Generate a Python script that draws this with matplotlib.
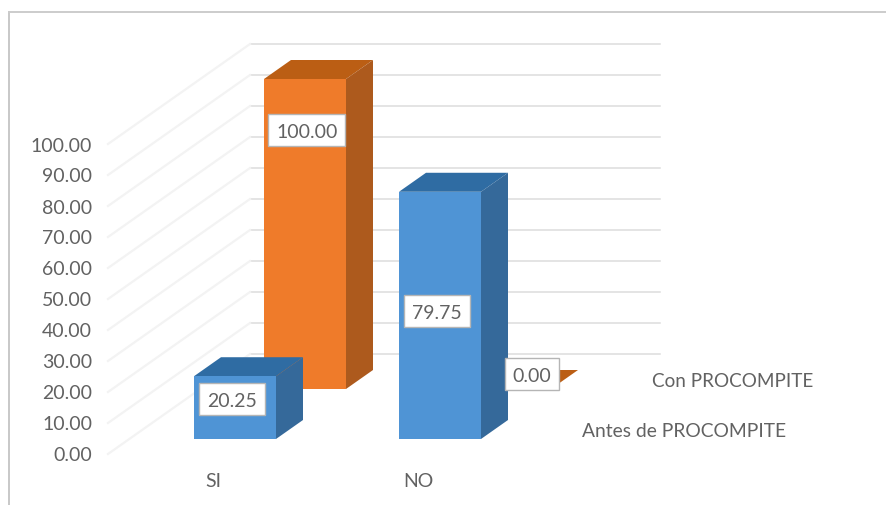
import matplotlib
matplotlib.use('Agg')
import matplotlib.pyplot as plt
from matplotlib.patches import Polygon, Rectangle

categorias = ['SI', 'NO']
antes = [20.25, 79.75]
con = [100.00, 0.00]
ticks = [0, 10, 20, 30, 40, 50, 60, 70, 80, 90, 100]
nombre_antes = 'Antes de PROCOMPITE'
nombre_con = 'Con PROCOMPITE'

plt.rcParams['font.family'] = ['Lato', 'DejaVu Sans']

W = 887
H = 506
PX = 3.1        # pixels per unit of value
Y0 = 440        # pixel row of value 0 in the front series


def v(p):
    # pixel rows to value units
    return p / PX


fig = plt.figure(figsize=(W / 100, H / 100), dpi=100)
ax = fig.add_axes([0, 0, 1, 1])
ax.set_xlim(0, W)
ax.set_ylim(v(Y0 - H), v(Y0))
ax.axis('off')

TXT = '#626262'

# chart frame
ax.plot([9, 9], [v(Y0 - H), v(Y0 - 13)], color='#c8c8c8', lw=1.4)
ax.plot([9, W], [v(Y0 - 13), v(Y0 - 13)], color='#cccccc', lw=1.4)

# walls: value 0 on the back wall sits 85 px above the front base
back = v(85)
for t in ticks:
    ax.plot([250, 660], [t + back, t + back], color='#dcdcdc', lw=1.1, zorder=1)
    ax.plot([108, 250], [t + back - v(100), t + back], color='#f3f3f3', lw=1.6, zorder=1)
    ax.text(92, t + back - v(100) - v(1), f'{t:.2f}', ha='right', va='center',
            fontsize=14, color=TXT, zorder=6)


def barra(x, base, valor, ancho, frente, lado, arriba, z):
    dx = 27
    dy = v(19)
    top = base + valor
    ax.add_patch(Polygon([(x, top), (x + ancho, top), (x + ancho + dx, top + dy), (x + dx, top + dy)],
                         closed=True, fc=arriba, ec='none', zorder=z))
    ax.add_patch(Polygon([(x + ancho, base), (x + ancho + dx, base + dy), (x + ancho + dx, top + dy), (x + ancho, top)],
                         closed=True, fc=lado, ec='none', zorder=z))
    ax.add_patch(Rectangle((x, base), ancho, valor, fc=frente, ec='none', zorder=z))


x_antes = [194, 399]
x_con = [264, 469]
base_con = v(50)
for i in range(len(categorias)):
    barra(x_con[i], base_con, con[i], 82, '#ef7b2a', '#ad5a1d', '#bb5e14', 3)
for i in range(len(categorias)):
    barra(x_antes[i], 0, antes[i], 82, '#4f94d5', '#35699a', '#2f6ca3', 4)

# data labels were moved by hand in the original
etiquetas = [(307, 131, con[0], 77), (232, 400, antes[0], 66), (437, 312, antes[1], 66), (532, 375, con[1], 54)]
for px, py, val, w in etiquetas:
    ax.add_patch(Rectangle((px - w / 2, v(Y0 - py) - v(16)), w, v(32), fc='white', ec='#b5b5b5', lw=1, zorder=5))
    ax.text(px, v(Y0 - py - 1.5), f'{val:.2f}', ha='center', va='center', fontsize=14, color=TXT, zorder=6)

# category and series names
for px, c in zip([213, 418], categorias):
    ax.text(px, v(Y0 - 482), c, ha='center', va='center', fontsize=14, color=TXT)
ax.text(652, v(Y0 - 382), nombre_con, ha='left', va='center', fontsize=13.6, color=TXT)
ax.text(582, v(Y0 - 432), nombre_antes, ha='left', va='center', fontsize=13.9, color=TXT)

fig.savefig('out.png', dpi=100)
